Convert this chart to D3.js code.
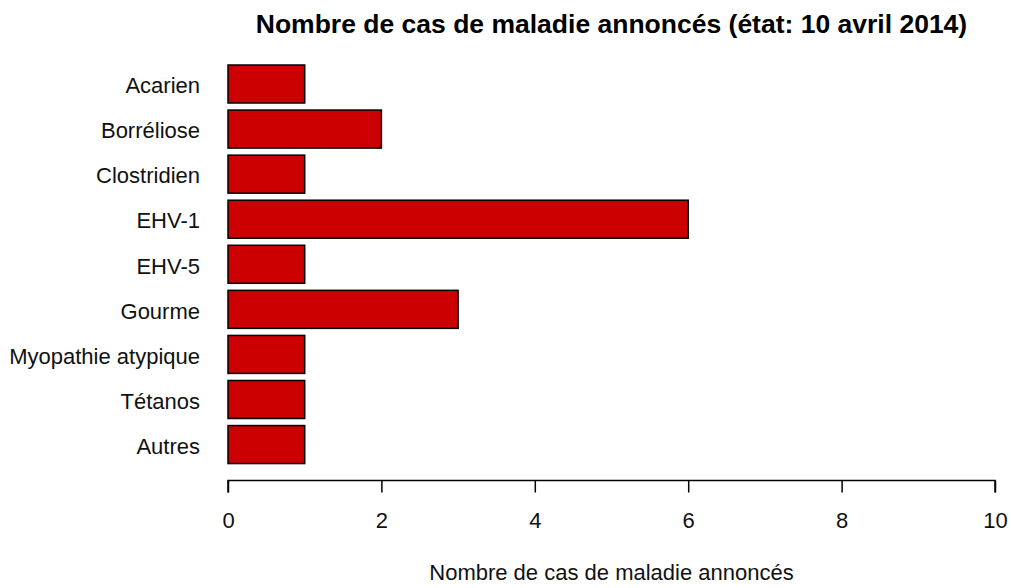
<!DOCTYPE html>
<html lang="fr">
<head>
<meta charset="UTF-8">
<title>Nombre de cas de maladie annoncés</title>
<script src="https://d3js.org/d3.v7.min.js"></script>
<style>
    body { margin: 0; background: #fff; font-family: "Liberation Sans", Arial, sans-serif; }
    svg { display: block; }
</style>
</head>
<body>
<div id="chart"></div>
<script>
    const categories = ["Acarien", "Borréliose", "Clostridien", "EHV-1", "EHV-5",
                        "Gourme", "Myopathie atypique", "Tétanos", "Autres"];
    const counts = [1, 2, 1, 6, 1, 3, 1, 1, 1];
    const xTicks = [0, 2, 4, 6, 8, 10];

    const width = 1012, height = 588;
    const plotLeft = 228, plotRight = 995;
    const barTop = 65, pitch = 45.07, barH = 38;

    const svg = d3.select("#chart").append("svg")
        .attr("width", width)
        .attr("height", height);

    const x = d3.scaleLinear().domain([0, 10]).range([plotLeft, plotRight]);

    // bars, top to bottom
    svg.append("g")
        .selectAll("rect")
        .data(categories)
        .join("rect")
        .attr("x", x(0))
        .attr("y", (d, i) => barTop + i * pitch)
        .attr("width", (d, i) => x(counts[i]) - x(0))
        .attr("height", barH)
        .attr("fill", "#cc0000")
        .attr("stroke", "#000")
        .attr("stroke-width", 1.5);

    // category labels
    svg.append("g")
        .selectAll("text")
        .data(categories)
        .join("text")
        .attr("x", 200)
        .attr("y", (d, i) => barTop + i * pitch + barH / 2)
        .attr("dy", "0.42em")
        .attr("text-anchor", "end")
        .attr("font-size", 22)
        .attr("fill", "#111")
        .text(d => d);

    // x axis
    const axis = svg.append("g")
        .attr("transform", "translate(0,480.5)")
        .call(d3.axisBottom(x).tickValues(xTicks).tickSize(12).tickPadding(20));
    axis.select(".domain").attr("d", `M${x(0)},12V0H${x(10)}V12`).attr("stroke-width", 1.5);
    axis.selectAll(".tick line").attr("stroke-width", 1.5);
    axis.selectAll(".tick text")
        .attr("font-size", 22)
        .attr("font-family", "'Liberation Sans', Arial, sans-serif")
        .attr("fill", "#111");

    // title
    svg.append("text")
        .attr("x", (plotLeft + plotRight) / 2)
        .attr("y", 33)
        .attr("text-anchor", "middle")
        .attr("font-size", 26.5)
        .attr("font-weight", "bold")
        .text("Nombre de cas de maladie annoncés (état: 10 avril 2014)");

    // x label
    svg.append("text")
        .attr("x", (plotLeft + plotRight) / 2)
        .attr("y", 579.5)
        .attr("text-anchor", "middle")
        .attr("font-size", 22)
        .attr("fill", "#111")
        .text("Nombre de cas de maladie annoncés");
</script>
</body>
</html>
